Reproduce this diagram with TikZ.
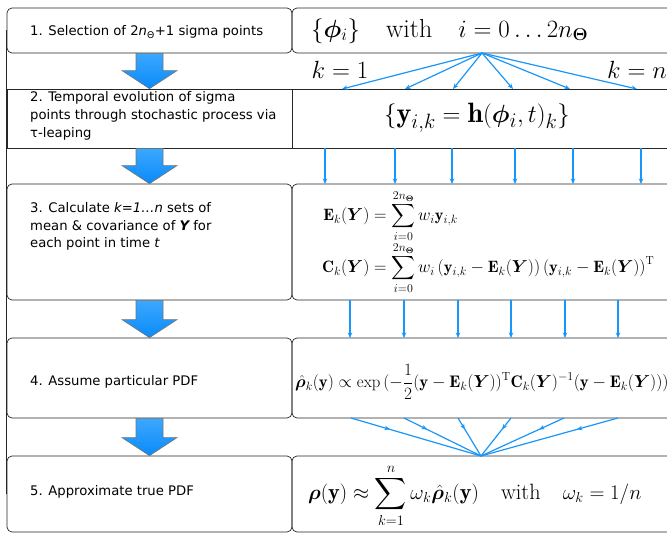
\documentclass[tikz,border=0pt]{standalone}
\usepackage{amsmath,amssymb,bm}
\usepackage{fontspec}
\usepackage{tikz}
\usetikzlibrary{arrows.meta,positioning,decorations.markings}
\newfontfamily\stepfont{DejaVu Sans}
\definecolor{flowblue}{RGB}{25,150,250}
\definecolor{flowtop}{RGB}{60,168,255}
\definecolor{flowbot}{RGB}{10,138,248}

\begin{document}
\begin{tikzpicture}[x=1pt,y=-1pt,
  leftbox/.style={draw=black!85,line width=0.7pt,rounded corners=5pt,
    minimum width=285pt,inner sep=0pt},
  rightbox/.style={leftbox,minimum width=428pt},
  steptext/.style={font=\stepfont\fontsize{13.2}{17.8}\selectfont,align=left,
    anchor=west,inner sep=0pt},
  bigarrow/.style={draw=black!55,line width=0.6pt,top color=flowtop,bottom color=flowbot},
  thinarrow/.style={-{Stealth[length=5.5pt,width=4.5pt]},flowblue,line width=1.2pt},
  midarrow/.style={flowblue,line width=1.2pt,decoration={markings,
    mark=at position 0.3 with {\arrow{Stealth[length=5.5pt,width=4.5pt]}}},postaction={decorate}}]
  \clip (0,0) rectangle (667,534);

  % Left column: steps
  \node[leftbox,minimum height=45pt]  (l1) at (149.5,30.5) {};
  \node[leftbox,minimum height=59pt,sharp corners] (l2) at (149.5,118.5) {};
  \node[leftbox,minimum height=116pt] (l3) at (149.5,242) {};
  \node[leftbox,minimum height=80pt]  (l4) at (149.5,378) {};
  \node[leftbox,minimum height=76pt]  (l5) at (149.5,494) {};
  \draw[black!85,line width=0.7pt] (l1.west) -- (l5.west);

  % Right column: formulas
  \node[rightbox,minimum height=45pt]  (r1) at (506,30.5) {};
  \node[rightbox,minimum height=59pt,sharp corners] (r2) at (506,118.5) {};
  \node[rightbox,minimum height=116pt] (r3) at (506,242) {};
  \node[rightbox,minimum height=80pt]  (r4) at (506,378) {};
  \node[rightbox,minimum height=76pt]  (r5) at (506,494) {};

  % Step texts
  \node[steptext] (t1) at (30,32)
    {1. Selection of 2{\itshape n}\textsubscript{Θ}+1 sigma points};
  \node[steptext] (t2) at (30,116)
    {2. Temporal evolution of sigma\\points through stochastic process via\\τ-leaping};
  \node[steptext,anchor=north west] (t3) at (30,202)
    {3. Calculate {\itshape k=1…n} sets of\\mean \& covariance of {\bfseries\itshape Y} for\\each point in time {\itshape t}};
  \node[steptext] (t4) at (30,382) {4. Assume particular PDF};
  \node[steptext] (t5) at (30,492) {5. Approximate true PDF};

  % Formulas
  \node[anchor=west,inner sep=0pt,font=\fontsize{26}{30}\selectfont] (f1) at (311,31)
    {$\{\bm\phi_i\}\quad\text{with}\quad i=0\ldots2n_{\bm\Theta}$};
  \node[inner sep=0pt,font=\fontsize{28}{32}\selectfont] (f2) at (477,118)
    {$\{\mathbf y_{i,k}=\mathbf h(\bm\phi_i,t)_k\}$};
  \node[anchor=west,inner sep=0pt,font=\fontsize{16.5}{20}\selectfont] (f3) at (322,242)
    {$\begin{aligned}
      \mathbf E_k(\bm Y)&=\sum_{i=0}^{2n_{\bm\Theta}}w_i\mathbf y_{i,k}\\[-4pt]
      \mathbf C_k(\bm Y)&=\sum_{i=0}^{2n_{\bm\Theta}}w_i\left(\mathbf y_{i,k}-\mathbf E_k(\bm Y)\right)\left(\mathbf y_{i,k}-\mathbf E_k(\bm Y)\right)^{\mathrm T}
    \end{aligned}$};
  \node[anchor=west,inner sep=0pt,font=\fontsize{16.8}{20}\selectfont] (f4) at (295,382)
    {$\displaystyle\hat{\bm\rho}_k(\mathbf y)\propto\exp\,(-\frac12(\mathbf y-\mathbf E_k(\bm Y))^{\mathrm T}\mathbf C_k(\bm Y)^{-1}(\mathbf y-\mathbf E_k(\bm Y)))$};
  \node[anchor=west,inner sep=0pt,font=\fontsize{22.2}{26}\selectfont] (f5) at (308,496)
    {$\displaystyle\bm\rho(\mathbf y)\approx\sum_{k=1}^{n}\omega_k\hat{\bm\rho}_k(\mathbf y)\quad\text{with}\quad\omega_k=1/n$};

  % Big arrows between steps
  \foreach \a/\b in {l1/l2,l2/l3,l3/l4,l4/l5}
    \draw[bigarrow] ([xshift=-13.5pt]\a.south) -- ([xshift=-13.5pt,yshift=18pt]\b.north)
      -- ([xshift=-27.5pt,yshift=18pt]\b.north) -- (\b.north)
      -- ([xshift=27.5pt,yshift=18pt]\b.north) -- ([xshift=13.5pt,yshift=18pt]\b.north)
      -- ([xshift=13.5pt]\a.south) -- cycle;

  % Sigma points fan out
  \coordinate (src) at (482,53);
  \foreach \x [count=\i] in {342,405,453,513,570,637} {
    \coordinate (k\i) at (\x,89);
    \draw[thinarrow] (src) -- (k\i);
  }
  \node[font=\fontsize{24.5}{28}\selectfont] (kone) at (340,70) {$k=1$};
  \node[font=\fontsize{24.5}{28}\selectfont] (kn) at (637,70) {$k=n$};

  % Evolved points to statistics
  \foreach \x [count=\i] in {325,395,452,515,573,641} {
    \coordinate (ya\i) at (\x,148);
    \coordinate (yb\i) at (\x,184);
    \draw[thinarrow] (ya\i) -- (yb\i);
  }

  % Statistics to PDFs
  \foreach \x [count=\i] in {350,404,458,511,565,618} {
    \coordinate (ca\i) at (\x,300);
    \coordinate (cb\i) at (\x,338);
    \draw[thinarrow] (ca\i) -- (cb\i);
  }

  % PDFs combined
  \coordinate (sink) at (481,456);
  \foreach \x [count=\i] in {351,404,458,511,564,618} {
    \coordinate (p\i) at (\x,418);
    \draw[midarrow] (p\i) -- (sink);
  }
\end{tikzpicture}
\end{document}
